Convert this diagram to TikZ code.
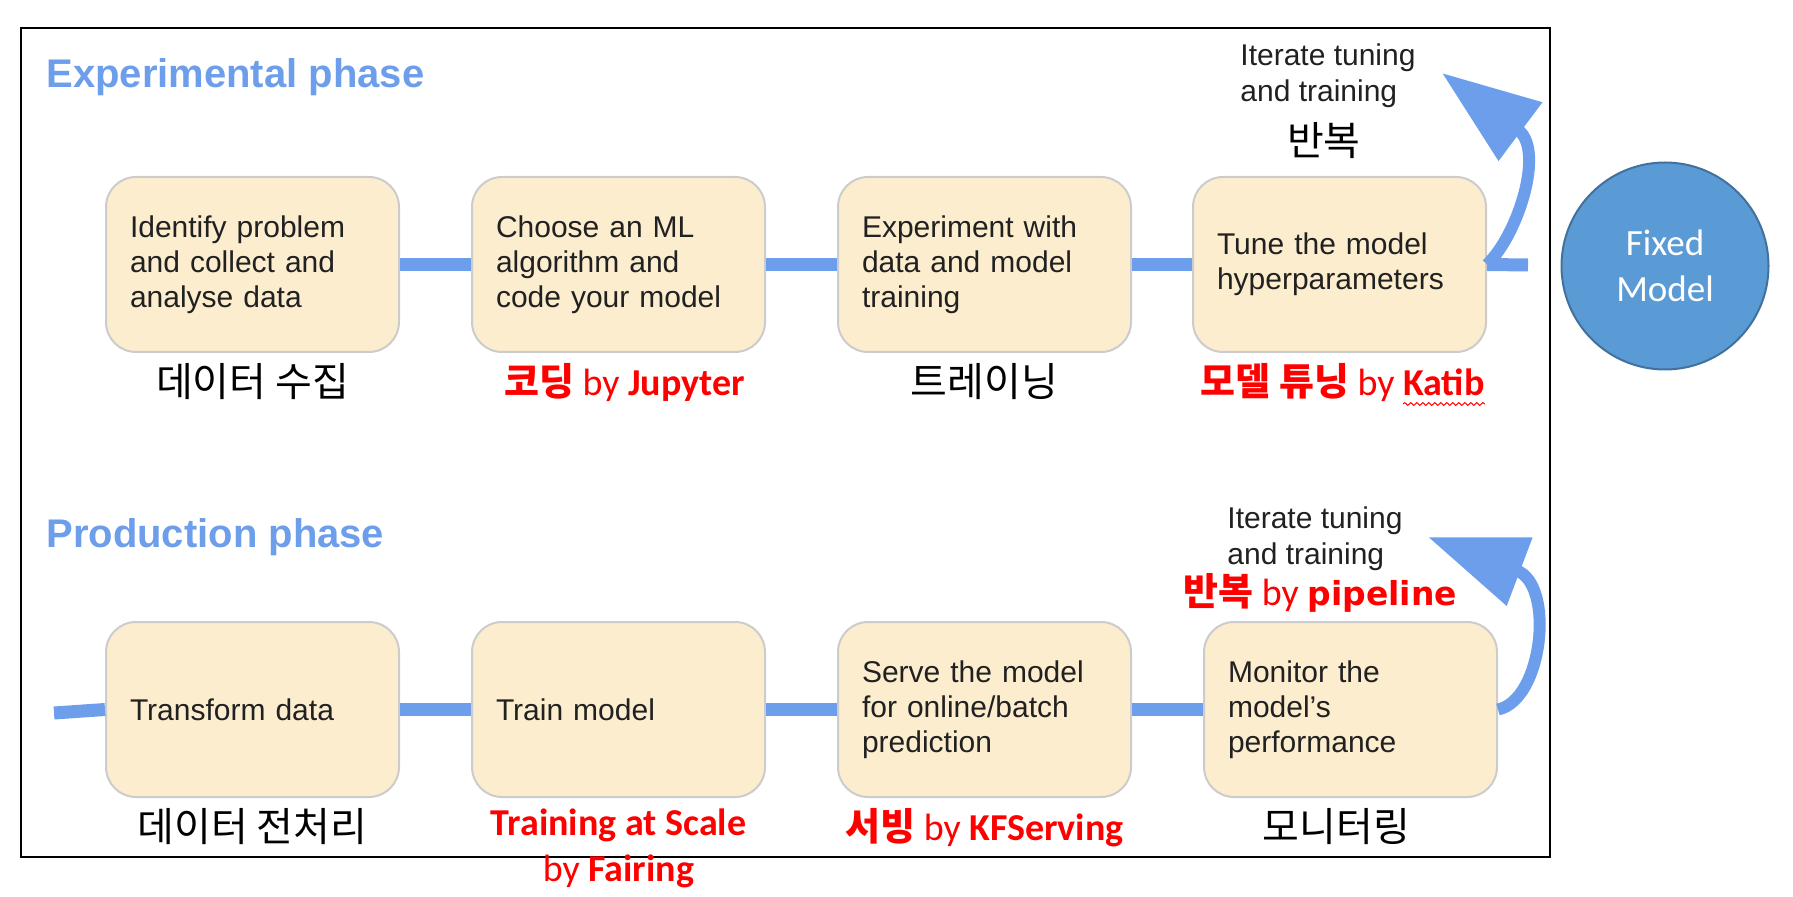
\documentclass[tikz,border=0pt]{standalone}
\usepackage{fontspec}
\setmainfont{Liberation Sans}
\newfontfamily\krfont{Noto Sans CJK KR}
\newfontfamily\calfont{Carlito}
\newfontfamily\dejafont{DejaVu Sans}
\usetikzlibrary{
	positioning,
	arrows.meta,
	decorations.pathmorphing
}
\definecolor{flowblue}{HTML}{6D9EEB}
\definecolor{boxfill}{HTML}{FCEDCF}
\definecolor{boxline}{HTML}{CCCCCC}
\definecolor{circfill}{HTML}{5B9BD5}
\definecolor{circline}{HTML}{41719C}

\begin{document}
\begin{tikzpicture}[
    x=0.5pt, y=-0.5pt,
    node distance=35.5pt and 35.5pt,
    stage/.style={rectangle, rounded corners=15pt, draw=boxline, line width=1pt, fill=boxfill, align=left, text width=122.5pt, inner xsep=12pt, minimum height=87.5pt, font=\fontsize{15}{17.5}\selectfont, text=black!87},
    phase/.style={anchor=base west, inner sep=0pt, text=flowblue, font=\fontsize{20}{22}\selectfont\bfseries},
    link/.style={flowblue, line width=6.5pt},
    iterarrow/.style={flowblue, line width=6pt, -{Triangle[length=49pt, width=35pt]}},
    krlabel/.style={inner sep=0pt, font=\krfont\fontsize{20}{22}\selectfont},
    redlabel/.style={inner sep=0pt, text=red, align=center, font=\calfont\fontsize{19}{23}\selectfont},
    note/.style={anchor=north west, inner sep=0pt, align=left, text=black!87, font=\fontsize{15}{18}\selectfont}
]
\useasboundingbox (0,0) rectangle (1793,897);
\draw[line width=1.2pt] (21,28) rectangle (1550,857);

% experimental phase
\node[phase] (exptitle) at (46,88) {Experimental phase};
\node[stage] (identify) at (252.5,264.5) {Identify problem\\and collect and\\analyse data};
\node[stage, right=of identify] (choose) {Choose an ML\\algorithm and\\code your model};
\node[stage, right=of choose] (experiment) {Experiment with\\data and model\\training};
\node[stage, right=30pt of experiment] (tune) {Tune the model\\hyperparameters};
\coordinate (topend) at (1528,265);
\coordinate (toptip) at (1442,73);

\node[krlabel, below=5pt of identify] (collectlbl) {데이터 수집};
\node[redlabel, below=5pt of choose, xshift=3pt] (codinglbl) {{\krfont\bfseries 코딩} by {\bfseries Jupyter}};
\node[krlabel, below=5pt of experiment] (traininglbl) {트레이닝};
\node[redlabel, below=5pt of tune, xshift=1.5pt] (tuninglbl) {{\krfont\bfseries 모델 튜닝} by {\bfseries Katib}};
\node[note] (topnote) at (1240,43.5) {Iterate tuning\\and training};
\node[krlabel, below=7pt of topnote.south, xshift=-2pt] (toprepeat) {반복};

\draw[link] (identify) -- (choose);
\draw[link] (choose) -- (experiment);
\draw[link] (experiment) -- (tune);
\draw[link] (tune.east) -- (topend);
\draw[iterarrow] (tune.east) .. controls (1518,235) and (1545,150) .. (toptip);
\draw[red, line width=0.5pt, decorate, decoration={snake, amplitude=0.7pt, segment length=3pt}]
    ([xshift=-41pt, yshift=-1pt]tuninglbl.south east) -- ([yshift=-1pt]tuninglbl.south east);

\node[circle, draw=circline, line width=1pt, fill=circfill, minimum size=103.5pt, align=center, text=white, font=\calfont\fontsize{18.5}{23}\selectfont] (fixed) at (1665,266) {Fixed\\Model};

% production phase
\node[phase] (prodtitle) at (46,547) {Production phase};
\node[stage] (transform) at (252.5,709.5) {Transform data};
\node[stage, right=of transform] (train) {Train model};
\node[stage, right=of train] (serve) {Serve the model\\for online/batch\\prediction};
\node[stage, right=of serve] (monitor) {Monitor the\\model’s\\performance};
\coordinate (botstart) at (54,713);
\coordinate (bottip) at (1428,537);

\node[krlabel, below=5pt of transform] (preplbl) {데이터 전처리};
\node[redlabel, below=5pt of train] (scalelbl) {{\bfseries Training at Scale}\\by {\bfseries Fairing}};
\node[redlabel, below=5pt of serve] (servinglbl) {{\krfont\bfseries 서빙} by {\bfseries KFServing}};
\node[krlabel, below=5pt of monitor, xshift=-7pt] (monitorlbl) {모니터링};
\node[note] (botnote) at (1227,506.5) {Iterate tuning\\and training};
\node[redlabel, anchor=west] (pipelbl) at (1183,593) {{\krfont\bfseries 반복} by {\dejafont\bfseries\fontsize{16.5}{18}\selectfont pipeline}};

\draw[link] (botstart) -- (transform.west);
\draw[link] (transform) -- (train);
\draw[link] (train) -- (serve);
\draw[link] (serve) -- (monitor);
\draw[iterarrow] (monitor.east) .. controls (1543,700) and (1555,585) .. (bottip);
\end{tikzpicture}
\end{document}
